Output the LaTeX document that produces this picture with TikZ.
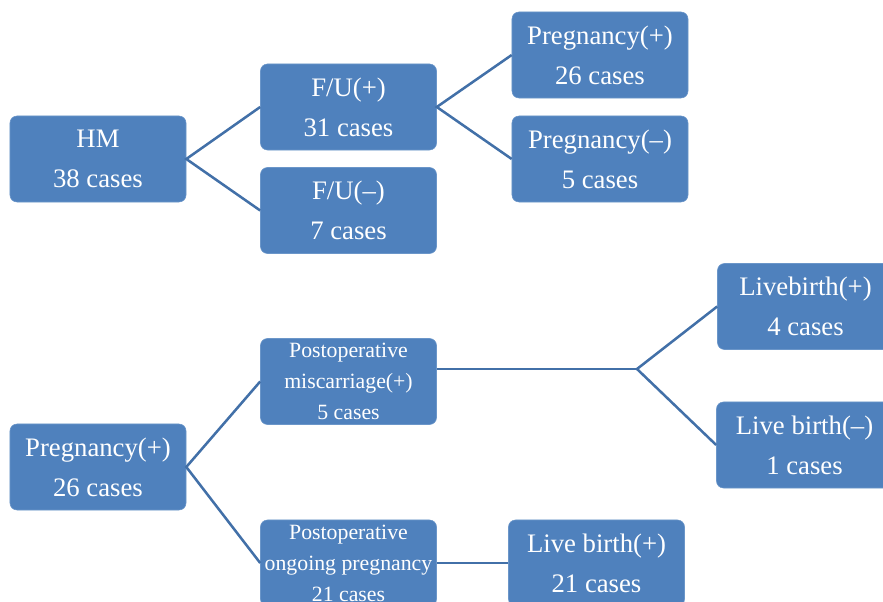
\documentclass[tikz,border=0pt]{standalone}
\usepackage{fontspec}
\setmainfont{Liberation Serif}
\usepackage{tikz}
\usetikzlibrary{positioning}
\definecolor{boxfill}{HTML}{4F81BD}
\definecolor{boxedge}{HTML}{6B96C9}
\definecolor{linkblue}{HTML}{4270A8}

\begin{document}
\begin{tikzpicture}[
  x=0.025cm, y=-0.025cm,
  box/.style={draw=boxedge, fill=boxfill, rounded corners=5pt, minimum width=4.4cm,
              minimum height=2.15cm, inner sep=0pt, text=white, align=center,
              font=\fontsize{19}{28.5}\selectfont},
  small/.style={box, font=\fontsize{15.5}{22}\selectfont},
  link/.style={draw=linkblue, line width=1.8pt}
]
\useasboundingbox (0,0) rectangle (883,602);
\clip (0,0) rectangle (883,602);

\node[box] (hm) at (98,159) {HM\\38 cases};
\node[box] (fupos) at (348.5,107) {F/U(+)\\31 cases};
\node[box] (funeg) at (348.5,210.5) {F/U(--)\\7 cases};
\node[box] (pregpos) at (600,55) {Pregnancy(+)\\26 cases};
\node[box] (pregneg) at (600,159) {Pregnancy(--)\\5 cases};

\node[box] (preg) at (98,467) {Pregnancy(+)\\26 cases};
\node[small] (misc) at (348.5,381.5) {Postoperative\\miscarriage(+)\\5 cases};
\node[small] (ongo) at (348.5,563) {Postoperative\\ongoing pregnancy\\21 cases};
\node[box] (birth21) at (596.5,563) {Live birth(+)\\21 cases};
\node[box] (birth4) at (805.5,306.5) {Livebirth(+)\\4 cases};
\node[box] (birth1) at (804.5,445) {Live birth(--)\\1 cases};
\coordinate (split) at (637,369);

\draw[link] (fupos.west) -- (hm.east) -- (funeg.west);
\draw[link] (pregpos.west) -- (fupos.east) -- (pregneg.west);
\draw[link] (misc.west) -- (preg.east) -- (ongo.west);
\draw[link] (misc.east |- split) -- (split);
\draw[link] (birth4.west) -- (split) -- (birth1.west);
\draw[link] (ongo.east) -- (birth21.west);
\end{tikzpicture}
\end{document}
